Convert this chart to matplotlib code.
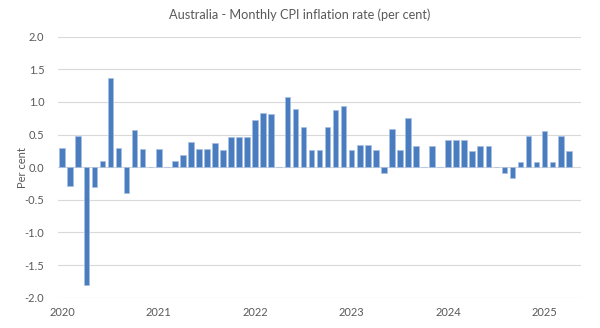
import numpy as np
import matplotlib
matplotlib.use("Agg")
import matplotlib.pyplot as plt

# monthly CPI change, Jan 2020 - Apr 2025 (per cent)
cpi_2020 = [0.29, -0.29, 0.48, -1.81, -0.30, 0.10, 1.36, 0.29, -0.39, 0.57, 0.28, 0.0]
cpi_2021 = [0.28, 0.0, 0.10, 0.18, 0.38, 0.28, 0.28, 0.37, 0.27, 0.46, 0.46, 0.46]
cpi_2022 = [0.73, 0.83, 0.82, 0.0, 1.08, 0.89, 0.62, 0.27, 0.27, 0.61, 0.87, 0.94]
cpi_2023 = [0.26, 0.34, 0.34, 0.26, -0.09, 0.59, 0.26, 0.75, 0.33, 0.0, 0.33, 0.0]
cpi_2024 = [0.41, 0.41, 0.41, 0.24, 0.32, 0.32, 0.0, -0.09, -0.16, 0.08, 0.48, 0.08]
cpi_2025 = [0.56, 0.08, 0.48, 0.24]

years = ["2020", "2021", "2022", "2023", "2024", "2025"]
yticks = [-2.0, -1.5, -1.0, -0.5, 0.0, 0.5, 1.0, 1.5, 2.0]

values = np.array(cpi_2020 + cpi_2021 + cpi_2022 + cpi_2023 + cpi_2024 + cpi_2025)
months = np.arange(len(values))

plt.rcParams['font.family'] = ['Lato', 'DejaVu Sans']
txt = "#595959"
bar_col = "#4a7dbf"

fig = plt.figure(figsize=(6.0, 3.28), dpi=100)
ax = fig.add_axes([0.097, 0.0924, 0.871, 0.796])

ax.bar(months, values, width=0.7, color=bar_col, edgecolor="#a8c0e2",
       linewidth=0.5, zorder=3)

ax.set_ylim(-2.0, 2.0)
ax.set_xlim(-0.5, len(values) + 0.5)
ax.set_yticks(yticks)
ax.set_yticklabels([f"{v:.1f}" for v in yticks])
ax.set_xticks(np.arange(len(years)) * 12)
ax.set_xticklabels(years)

ax.grid(axis="y", color="#d9d9d9", linewidth=0.8, zorder=0)
ax.tick_params(axis="both", length=0, labelsize=8, colors=txt)
ax.tick_params(axis="y", pad=10)
ax.tick_params(axis="x", pad=7)
for s in ax.spines.values():
    s.set_visible(False)

ax.set_ylabel("Per cent", fontsize=8, color=txt)
ax.yaxis.set_label_coords(-0.058, 0.5)
fig.text(0.5, 0.954, "Australia - Monthly CPI inflation rate (per cent)",
         ha="center", va="center", fontsize=9.2, color=txt)

fig.savefig("out.png", dpi=100)
